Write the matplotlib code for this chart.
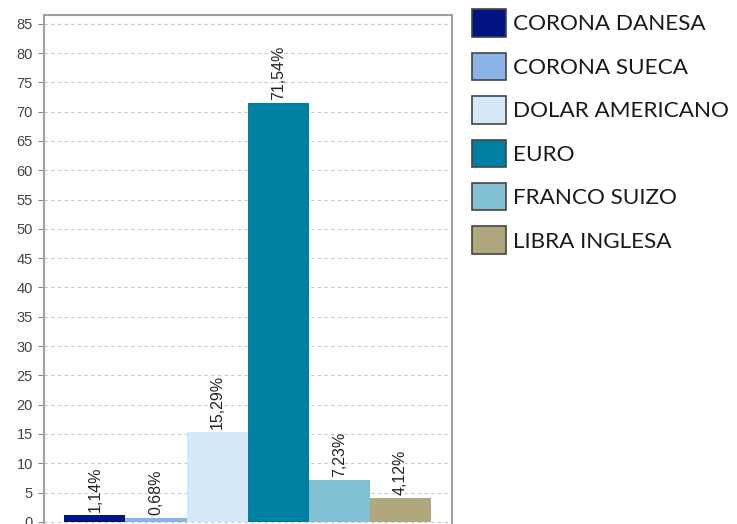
import matplotlib.pyplot as plt
from matplotlib.patches import Patch

monedas = ['CORONA DANESA', 'CORONA SUECA', 'DOLAR AMERICANO', 'EURO',
           'FRANCO SUIZO', 'LIBRA INGLESA']
porcentajes = [1.14, 0.68, 15.29, 71.54, 7.23, 4.12]
etiquetas = ['1,14%', '0,68%', '15,29%', '71,54%', '7,23%', '4,12%']
colores = ['#001483', '#8ab4e6', '#d4e8f8', '#0080a0', '#80c0d2', '#b0a87c']
yticks = list(range(0, 90, 5))

W, H = 737, 524
fig = plt.figure(figsize=(W / 100, H / 100), dpi=100)

# ejes colocados en pixeles: izquierda 44, derecha 452, arriba 15
ymin, ymax = -1.0, 86.5
px_por_unidad = 5.86
alto = (ymax - ymin) * px_por_unidad
abajo = H - 15 - alto
ax = fig.add_axes([44 / W, abajo / H, 408 / W, alto / H])

x = list(range(len(monedas)))
ax.bar(x, porcentajes, width=1.0, color=colores, edgecolor='none', zorder=2)

for xi, v, txt in zip(x, porcentajes, etiquetas):
    ax.text(xi, v + 0.5, txt, rotation=90, ha='center', va='bottom',
            fontsize=11.5, family='Liberation Sans', color='#222222', zorder=3)

ax.set_xlim(-0.83, 5.84)
ax.set_ylim(ymin, ymax)
ax.set_yticks(yticks)
ax.set_xticks([])
ax.grid(axis='y', color='#c8c8c8', linestyle=(0, (3, 3)), linewidth=0.8, zorder=0)
ax.tick_params(axis='y', length=4, width=0.8, color='#888888', pad=4,
               labelsize=10.5, labelcolor='#444444')
for lab in ax.get_yticklabels():
    lab.set_family('Liberation Sans')
for s in ax.spines.values():
    s.set_color('#a0a0a0')
    s.set_linewidth(1.5)

handles = [Patch(facecolor=c, edgecolor='#444444', linewidth=1.2) for c in colores]
leg = fig.legend(handles, monedas, loc='upper left',
                 bbox_to_anchor=(470 / W, 1 - 7 / H), frameon=False,
                 prop={'family': 'Lato', 'size': 16.2},
                 handlelength=1.5, handleheight=1.5, handletextpad=0.32,
                 labelspacing=0.71, borderaxespad=0, borderpad=0.1)
for t in leg.get_texts():
    t.set_color('#1a1a1a')

fig.savefig('out.png', dpi=100)
